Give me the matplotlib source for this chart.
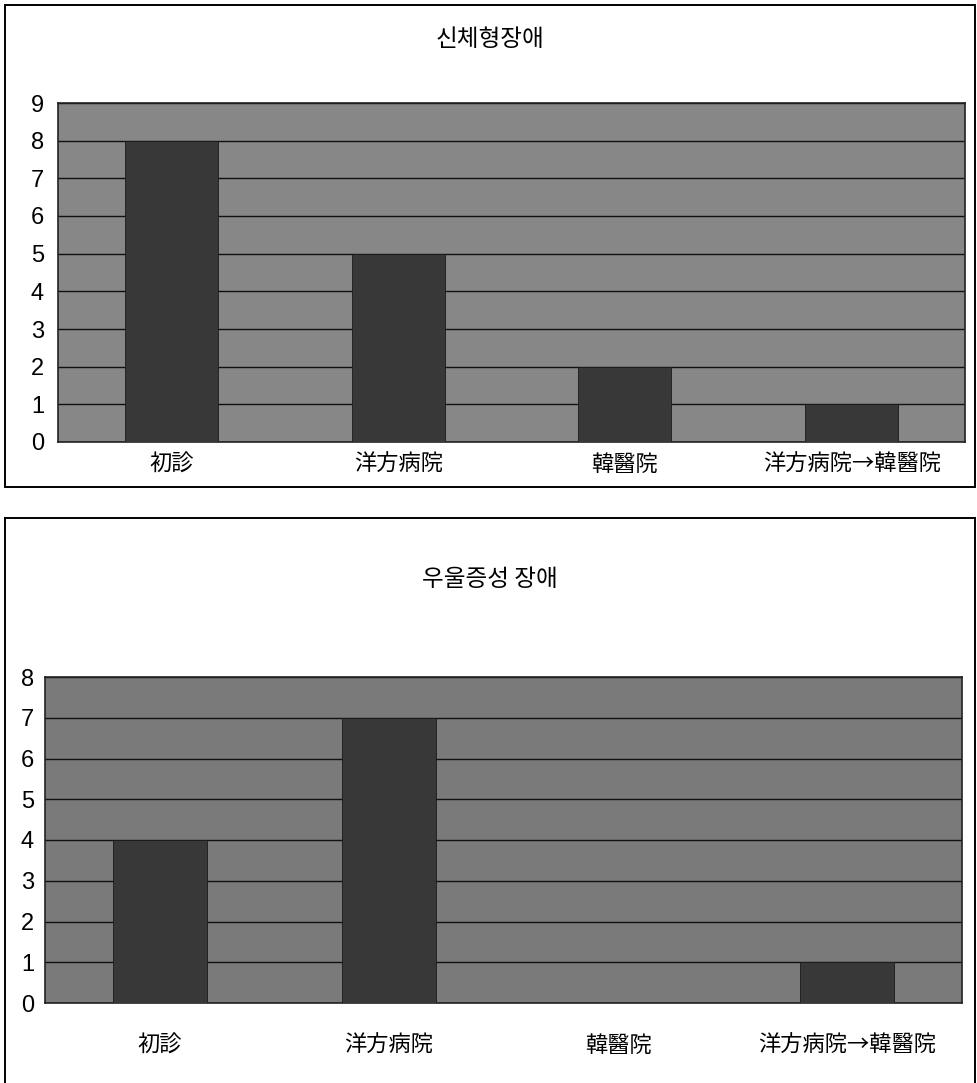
import matplotlib
matplotlib.use("Agg")
import matplotlib.pyplot as plt
from matplotlib.patches import Rectangle
from matplotlib.lines import Line2D

# ===== Data =====
categories = ["初診", "洋方病院", "韓醫院", "洋方病院→韓醫院"]
somatic_counts = [8, 5, 2, 1]
depress_counts = [4, 7, 0, 1]
somatic_title = "신체형장애"
depress_title = "우울증성 장애"

# ===== Style =====
plt.rcParams['font.family'] = ['Noto Sans CJK KR', 'DejaVu Sans']
W, H = 978, 1083

fig = plt.figure(figsize=(W / 100, H / 100), dpi=100)
fig.patch.set_facecolor("white")


def fx(px):
    return px / W


def fy(py):
    return 1 - py / H


def draw_panel(rect, values, ymax, title, title_y, pad_y, pad_x, bg):
    ax = fig.add_axes(rect)
    ax.set_facecolor(bg)
    x = range(len(categories))
    ax.bar(x, values, width=0.41, color="#383838", edgecolor="#1a1a1a",
           linewidth=0.6, zorder=3)
    ax.set_xlim(-0.5, len(categories) - 0.5)
    ax.set_ylim(0, ymax)
    ax.set_yticks(range(ymax + 1))
    ax.set_xticks(list(x))
    ax.set_xticklabels(categories, fontsize=16)
    ax.tick_params(axis="both", length=0)
    ax.tick_params(axis="y", labelsize=17, pad=pad_y)
    ax.tick_params(axis="x", pad=pad_x)
    for lab in ax.get_yticklabels():
        lab.set_family(['Liberation Sans', 'DejaVu Sans'])
    ax.set_axisbelow(True)
    ax.yaxis.grid(True, color="#111111", linewidth=1.0)
    for s in ax.spines.values():
        s.set_color("#222222")
        s.set_linewidth(1.2)
    fig.text(fx(490), fy(title_y), title, ha="center", va="center",
             fontsize=17)
    return ax


# ===== Top panel =====
draw_panel([fx(58), fy(442), fx(965 - 58), (442 - 103) / H],
           somatic_counts, 9, somatic_title, 40, 10, 8, "#878787")
fig.add_artist(Rectangle((fx(5), fy(487)), fx(970), (487 - 5) / H,
                         transform=fig.transFigure, fill=False,
                         edgecolor="black", linewidth=1.4))

# ===== Bottom panel =====
draw_panel([fx(45), fy(1003), fx(962 - 45), (1003 - 677) / H],
           depress_counts, 8, depress_title, 580, 8, 22, "#7a7a7a")
for xs, ys in [([fx(5), fx(975)], [fy(518), fy(518)]),
               ([fx(5), fx(5)], [fy(518), 0]),
               ([fx(975), fx(975)], [fy(518), 0])]:
    fig.add_artist(Line2D(xs, ys, transform=fig.transFigure,
                          color="black", linewidth=1.4))

plt.savefig("out.png", dpi=100)
